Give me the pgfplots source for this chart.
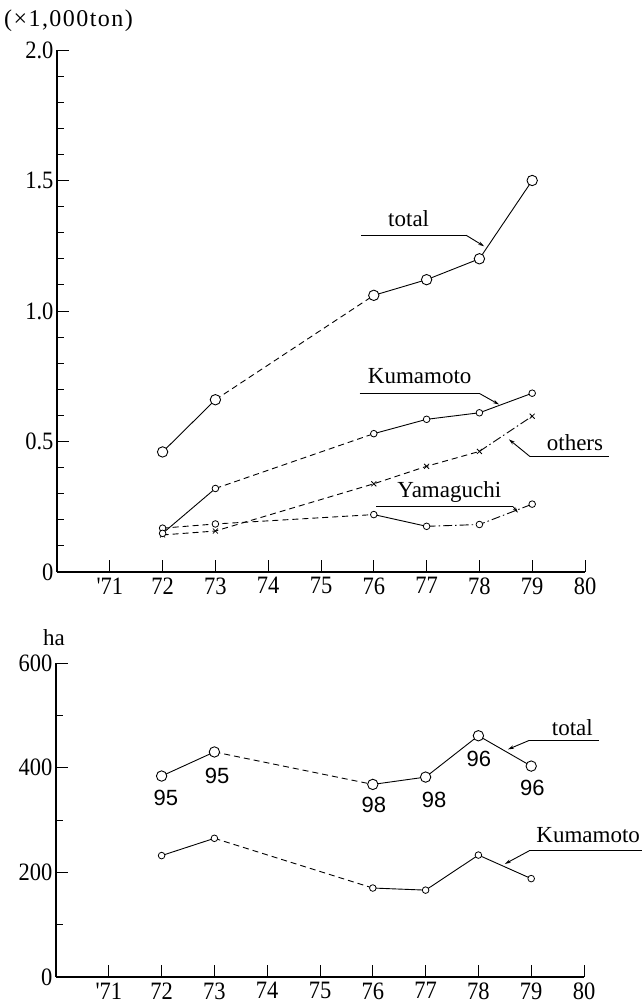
\documentclass[border=0pt]{standalone}
\usepackage{pgfplots}
\pgfplotsset{compat=1.18}
\usepackage{fontspec}
\setmainfont{Liberation Serif}
\newfontfamily\sansf{Liberation Sans}
\newfontfamily\tickf{Liberation Serif}[FakeStretch=0.9]
\usetikzlibrary{arrows.meta}
\tikzset{
  lead/.style={black, line width=0.9pt},
  arr/.style={black, line width=0.9pt, -{Stealth[length=6pt, width=3.5pt]}},
  lab/.style={font=\fontsize{23}{25}\selectfont, inner sep=0pt},
  num/.style={font=\sansf\fontsize{22}{24}\selectfont, inner sep=0pt},
  dsh/.style={dash pattern=on 6pt off 4pt},
  dd/.style={dash pattern=on 9pt off 3pt on 1.5pt off 3pt},
}
\pgfplotsset{
  base/.style={
    scale only axis, width=528pt, xmin=70, xmax=80, ymin=0,
    axis x line=bottom, axis y line=left, axis line style={-, line width=1.1pt},
    xtick={71,...,80}, xticklabels={'71,72,73,74,75,76,77,78,79,80},
    tick align=inside, major tick length=12pt, minor tick length=7pt,
    tick style={line width=0.9pt, black},
    tick label style={font=\tickf\fontsize{25}{27}\selectfont},
    xticklabel style={yshift=-2pt},
    /pgf/number format/assume math mode=true,
    clip=false, anchor=south west,
  },
  seg/.style={black, line width=0.9pt, no marks},
  big/.style={black, only marks, mark=*, mark size=5.2pt, mark options={draw=black, fill=white, line width=0.9pt, solid}},
  small/.style={black, only marks, mark=*, mark size=3.3pt, mark options={draw=black, fill=white, line width=0.8pt, solid}},
  crs/.style={black, only marks, mark=x, mark size=3.5pt, mark options={line width=0.8pt, solid}},
}

\begin{document}
\begin{tikzpicture}
\path[use as bounding box] (0pt,0pt) rectangle (642pt,1004pt);

\node[anchor=west, font=\fontsize{24}{26}\selectfont, inner sep=0pt] at (4pt,983pt) {\addfontfeature{LetterSpace=6}(×1,000ton)};
\node[lab] at (54pt,366pt) {ha};

% ---------------- top chart ----------------
\begin{axis}[base, at={(57pt,432pt)}, height=522pt, ymax=2,
  ytick={0,0.5,1,1.5,2}, yticklabels={0,0.5,1.0,1.5,2.0}, minor y tick num=4]
% total
\addplot[seg] coordinates {(72,0.46)(73,0.66)};
\addplot[seg, dsh] coordinates {(73,0.66)(76,1.06)};
\addplot[seg] coordinates {(76,1.06)(77,1.12)(78,1.20)(79,1.50)};
% Kumamoto
\addplot[seg] coordinates {(72,0.148)(73,0.32)};
\addplot[seg, dsh] coordinates {(73,0.32)(76,0.53)};
\addplot[seg] coordinates {(76,0.53)(77,0.585)(78,0.61)(79,0.685)};
% Yamaguchi
\addplot[seg, dsh] coordinates {(72,0.168)(73,0.184)(76,0.22)};
\addplot[seg] coordinates {(76,0.22)(77,0.175)};
\addplot[seg, dd] coordinates {(77,0.175)(78,0.182)(79,0.26)};
% others
\addplot[seg, dsh] coordinates {(72,0.142)(73,0.157)(76,0.338)(77,0.405)(78,0.462)};
\addplot[seg, dd] coordinates {(78,0.462)(79,0.597)};
% marks
\addplot[crs] coordinates {(72,0.142)(73,0.157)(76,0.338)(77,0.405)(78,0.462)(79,0.597)};
\addplot[small] coordinates {(72,0.168)(73,0.184)(76,0.22)(77,0.175)(78,0.182)(79,0.26)};
\addplot[small] coordinates {(72,0.148)(73,0.32)(76,0.53)(77,0.585)(78,0.61)(79,0.685)};
\addplot[big] coordinates {(72,0.46)(73,0.66)(76,1.06)(77,1.12)(78,1.20)(79,1.50)};
% labels
\node[lab] at (axis cs:76.66,1.355) {total};
\draw[lead] (axis cs:75.76,1.29) -- (axis cs:77.75,1.29);
\draw[arr] (axis cs:77.75,1.29) -- (axis cs:78.09,1.248);
\node[lab] at (axis cs:76.87,0.75) {Kumamoto};
\draw[lead] (axis cs:75.73,0.683) -- (axis cs:78.01,0.683);
\draw[arr] (axis cs:78.01,0.683) -- (axis cs:78.37,0.642);
\node[lab] at (axis cs:79.81,0.496) {others};
\draw[lead] (axis cs:80.45,0.442) -- (axis cs:78.96,0.442);
\draw[arr] (axis cs:78.96,0.442) -- (axis cs:78.56,0.508);
\node[lab] at (axis cs:77.43,0.305) {Yamaguchi};
\draw[lead] (axis cs:76.05,0.25) -- (axis cs:78.64,0.25);
\draw[arr] (axis cs:78.64,0.25) -- (axis cs:78.73,0.227);
\end{axis}

% ---------------- bottom chart ----------------
\begin{axis}[base, at={(56pt,27pt)}, height=314pt, ymax=600,
  ytick={0,200,400,600}, yticklabels={0,200,400,600}, minor y tick num=1]
% total
\addplot[seg] coordinates {(72,384)(73,430)};
\addplot[seg, dsh] coordinates {(73,430)(76,368)};
\addplot[seg] coordinates {(76,368)(77,382)(78,461)(79,403)};
% Kumamoto
\addplot[seg] coordinates {(72,232)(73,265)};
\addplot[seg, dsh] coordinates {(73,265)(76,170)};
\addplot[seg] coordinates {(76,170)(77,166)(78,233)(79,188)};
% marks
\addplot[small] coordinates {(72,232)(73,265)(76,170)(77,166)(78,233)(79,188)};
\addplot[big] coordinates {(72,384)(73,430)(76,368)(77,382)(78,461)(79,403)};
% value labels
\node[num] at (axis cs:72.08,343) {95};
\node[num] at (axis cs:73.05,385) {95};
\node[num] at (axis cs:76.02,328) {98};
\node[num] at (axis cs:77.16,339) {98};
\node[num] at (axis cs:78.01,417) {96};
\node[num] at (axis cs:79.02,362) {96};
% labels
\node[lab] at (axis cs:79.78,477) {total};
\draw[lead] (axis cs:80.28,452) -- (axis cs:78.96,452);
\draw[arr] (axis cs:78.96,452) -- (axis cs:78.56,435);
\node[lab] at (axis cs:80.08,271) {Kumamoto};
\draw[lead] (axis cs:81.1,241) -- (axis cs:78.96,241);
\draw[arr] (axis cs:78.96,241) -- (axis cs:78.5,216);
\end{axis}
\end{tikzpicture}
\end{document}
